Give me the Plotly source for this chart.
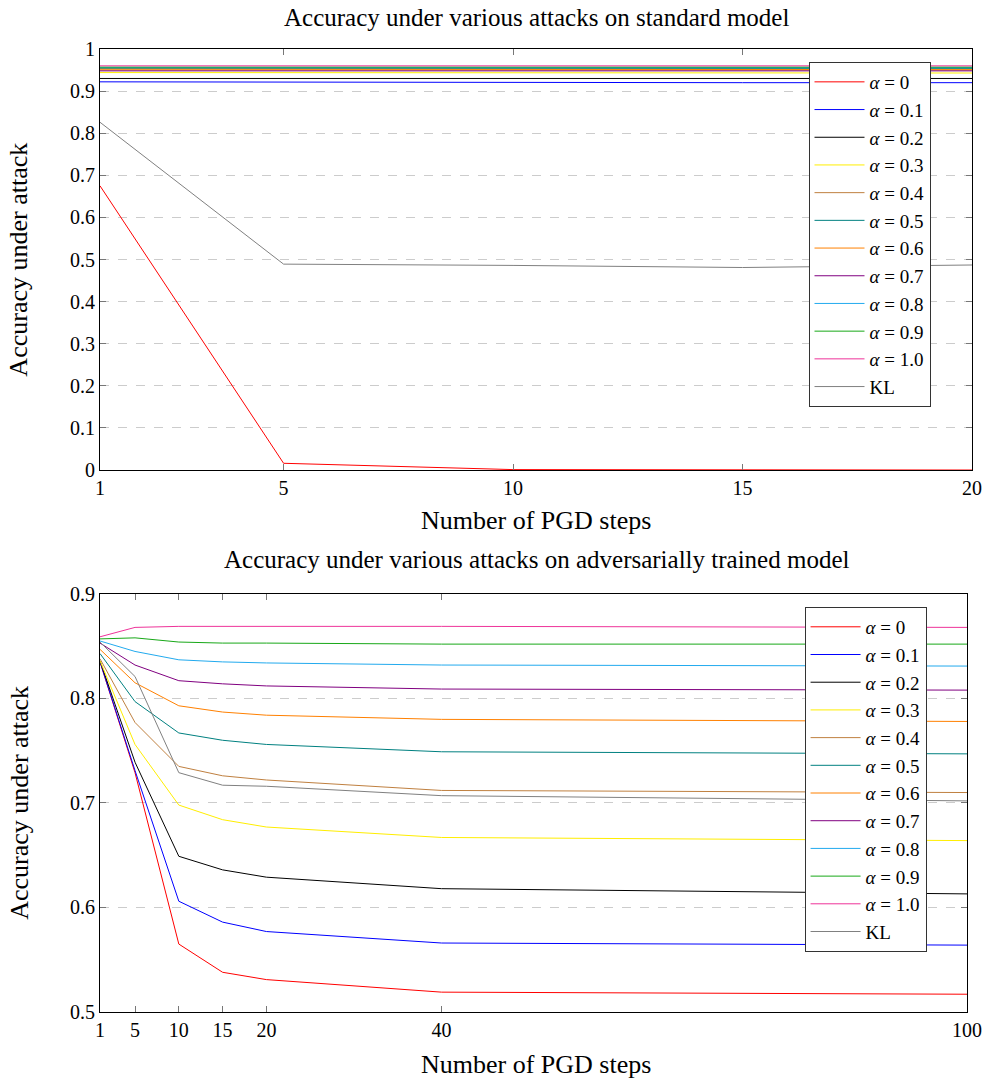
"""
Accuracy under PGD attacks, standard vs adversarially trained model.
Two stacked line plots with a legend each.
"""

import plotly.graph_objects as go

# series names and colours (same in both panels)
series_names = ['<i>α</i> = 0', '<i>α</i> = 0.1', '<i>α</i> = 0.2', '<i>α</i> = 0.3',
                '<i>α</i> = 0.4', '<i>α</i> = 0.5', '<i>α</i> = 0.6', '<i>α</i> = 0.7',
                '<i>α</i> = 0.8', '<i>α</i> = 0.9', '<i>α</i> = 1.0', 'KL']
series_colors = ['#ff0000', '#0000ff', '#000000', '#ffee00', '#bf8040', '#008080',
                 '#ff8000', '#800080', '#22aaee', '#18a818', '#ee3399', '#808080']

# top panel: standard model
std_steps = [1, 5, 10, 15, 20]
std_acc = [
    [0.675, 0.016, 0.001, 0.0, 0.0],          # alpha 0
    [0.922, 0.921, 0.920, 0.920, 0.920],      # alpha 0.1
    [0.930, 0.930, 0.930, 0.930, 0.930],      # alpha 0.2
    [0.944, 0.944, 0.943, 0.943, 0.943],      # alpha 0.3
    [0.950, 0.950, 0.950, 0.950, 0.950],      # alpha 0.4
    [0.954, 0.954, 0.954, 0.954, 0.954],      # alpha 0.5
    [0.952, 0.952, 0.951, 0.951, 0.951],      # alpha 0.6
    [0.948, 0.948, 0.948, 0.948, 0.948],      # alpha 0.7
    [0.956, 0.956, 0.956, 0.956, 0.956],      # alpha 0.8
    [0.957, 0.957, 0.957, 0.957, 0.957],      # alpha 0.9
    [0.960, 0.960, 0.960, 0.960, 0.960],      # alpha 1.0
    [0.826, 0.489, 0.486, 0.481, 0.487],      # KL
]

# bottom panel: adversarially trained model
adv_steps = [1, 5, 10, 15, 20, 40, 100]
adv_acc = [
    [0.835, 0.729, 0.565, 0.538, 0.531, 0.519, 0.517],
    [0.835, 0.731, 0.606, 0.586, 0.577, 0.566, 0.564],
    [0.836, 0.739, 0.649, 0.636, 0.629, 0.618, 0.613],
    [0.836, 0.756, 0.698, 0.684, 0.677, 0.667, 0.664],
    [0.838, 0.777, 0.735, 0.726, 0.722, 0.712, 0.710],
    [0.843, 0.797, 0.767, 0.760, 0.756, 0.749, 0.747],
    [0.847, 0.815, 0.793, 0.787, 0.784, 0.780, 0.778],
    [0.853, 0.832, 0.817, 0.814, 0.812, 0.809, 0.808],
    [0.855, 0.845, 0.837, 0.835, 0.834, 0.832, 0.831],
    [0.857, 0.858, 0.854, 0.853, 0.853, 0.852, 0.852],
    [0.859, 0.868, 0.869, 0.869, 0.869, 0.869, 0.868],
    [0.854, 0.821, 0.729, 0.717, 0.716, 0.707, 0.702],
]

top_title = 'Accuracy under various attacks on standard model'
bottom_title = 'Accuracy under various attacks on adversarially trained model'
x_title = 'Number of PGD steps'
y_title = 'Accuracy under attack'

FONT = 'Liberation Serif'

fig = go.Figure()

for name, color, acc in zip(series_names, series_colors, std_acc):
    fig.add_trace(go.Scatter(x=std_steps, y=acc, name=name, mode='lines',
                             line=dict(color=color, width=1),
                             xaxis='x', yaxis='y', legend='legend'))

for name, color, acc in zip(series_names, series_colors, adv_acc):
    fig.add_trace(go.Scatter(x=adv_steps, y=acc, name=name, mode='lines',
                             line=dict(color=color, width=1),
                             xaxis='x2', yaxis='y2', legend='legend2'))

axis_common = dict(showline=True, linecolor='black', linewidth=1, mirror='ticks',
                   ticks='inside', ticklen=6, tickcolor='#777777',
                   tickfont=dict(family=FONT, size=20, color='black'),
                   zeroline=False)

legend_common = dict(bgcolor='white', bordercolor='#333333', borderwidth=1,
                     font=dict(family=FONT, size=19, color='black'),
                     xanchor='left', yanchor='top', itemwidth=50,
                     tracegroupgap=0)

fig.update_layout(
    width=999, height=1079,
    margin=dict(l=100, r=19, t=49, b=67),
    plot_bgcolor='white', paper_bgcolor='white',
    font=dict(family=FONT, size=20, color='black'),
    xaxis=dict(domain=[0, 1], range=[1, 20], tickvals=std_steps, showgrid=False,
               anchor='y', **axis_common),
    yaxis=dict(domain=[0.5628, 1], range=[0, 1], dtick=0.1, tick0=0,
               showgrid=True, gridcolor='#cccccc', griddash='dash', gridwidth=1,
               anchor='x', **axis_common),
    xaxis2=dict(domain=[0, 0.9943], range=[1, 100], tickvals=adv_steps, showgrid=False,
                anchor='y2', **axis_common),
    yaxis2=dict(domain=[0, 0.4341], range=[0.5, 0.9], dtick=0.1, tick0=0.5,
                showgrid=True, gridcolor='#cccccc', griddash='dash', gridwidth=1,
                anchor='x2', **axis_common),
    legend=dict(x=0.8125, y=0.9865, **legend_common),
    legend2=dict(x=0.808, y=0.4206, **legend_common),
    showlegend=True,
)

# titles and axis labels placed as annotations
labels = [
    (top_title, 0.5, 1.0332, 0, 25),
    (x_title, 0.5, 0.5109, 0, 26),
    (bottom_title, 0.5, 0.4694, 0, 25),
    (x_title, 0.5, -0.054, 0, 26),
    (y_title, -0.0932, 0.781, -90, 26),
    (y_title, -0.0932, 0.217, -90, 26),
]
for text, x, y, angle, size in labels:
    fig.add_annotation(text=text, x=x, y=y, xref='paper', yref='paper',
                       showarrow=False, textangle=angle,
                       font=dict(family=FONT, size=size, color='black'),
                       xanchor='center', yanchor='middle')

# no page margin and no scrollbars, so the figure fills the window exactly
fig.write_html('out.html', config={'displayModeBar': False},
               post_script="document.body.style.margin='0';"
                           "document.body.style.overflow='hidden';")
